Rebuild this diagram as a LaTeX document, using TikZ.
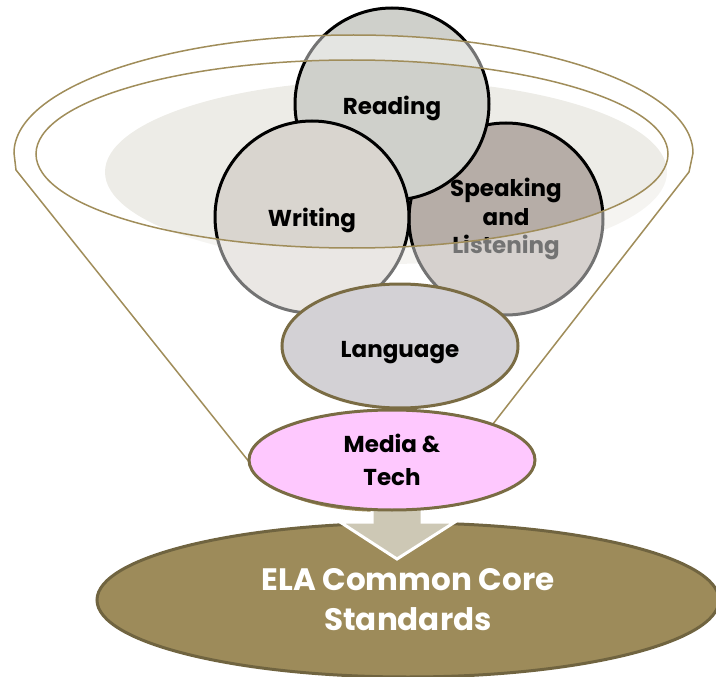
\documentclass[tikz,border=0pt]{standalone}
\usepackage{fontspec}
\setmainfont{Poppins}
\usetikzlibrary{shapes.geometric}
\definecolor{rimgold}{HTML}{A08D5A}
\definecolor{blobgray}{HTML}{EDECE7}
\definecolor{readfill}{HTML}{CFD0CB}
\definecolor{writefill}{HTML}{D9D5CF}
\definecolor{speakfill}{HTML}{B6ADA7}
\definecolor{langfill}{HTML}{D3D1D5}
\definecolor{mediafill}{HTML}{FEC8FE}
\definecolor{stageline}{HTML}{7A6C44}
\definecolor{basefill}{HTML}{9D8B5A}
\definecolor{baseline}{HTML}{706440}
\definecolor{arrowfill}{HTML}{CDC8B5}
\newcommand{\lowertext}[2]{\raisebox{-#1}[\height][\depth]{#2}}

\begin{document}
\begin{tikzpicture}[x=1pt, y=1pt,
  bubble/.style={ellipse, draw=black, line width=3pt, inner sep=0pt,
    minimum width=194pt, minimum height=192pt, align=center,
    font=\bfseries\fontsize{23}{28.5}\selectfont},
  stage/.style={ellipse, draw=stageline, line width=3pt, inner sep=0pt,
    align=center, font=\bfseries\fontsize{23}{33}\selectfont},
  rimline/.style={draw=rimgold, line width=1.5pt}]
\useasboundingbox (0,0) rectangle (716,-677);
% liquid
\fill[blobgray] (386,-172) ellipse[x radius=281, y radius=92];
% circles
\node[bubble, fill=speakfill] (speak) at (506,-219) {Speaking\\and\\Listening};
\node[bubble, fill=readfill] (read) at (392,-104) {\lowertext{4pt}{Reading}};
\node[bubble, fill=writefill] (write) at (312,-217) {\lowertext{3pt}{Writing}};
% funnel
\fill[white, opacity=0.45, even odd rule] (262,-478) -- (16,-170) -- (14,-153)
  arc[start angle=180, end angle=0, x radius=339.5, y radius=118]
  -- (689,-172) -- (486,-433)
  arc[start angle=32, end angle=-160, x radius=125, y radius=51] -- cycle
  (352,-154) ellipse[x radius=316, y radius=94];
\draw[rimline] (262,-478) -- (16,-170) -- (14,-153)
  arc[start angle=180, end angle=0, x radius=339.5, y radius=118]
  -- (689,-172) -- (486,-433)
  arc[start angle=32, end angle=-160, x radius=125, y radius=51] -- cycle;
\draw[rimline] (352,-154) ellipse[x radius=316, y radius=94];
% base
\node[ellipse, draw=baseline, line width=3pt, fill=basefill, inner sep=0pt,
  minimum width=622pt, minimum height=154pt, align=center, text=white,
  font=\bfseries\fontsize{31}{40}\selectfont] (ela) at (408,-600)
  {ELA Common Core\\Standards};
% arrow
\fill[arrowfill, draw=white, line width=3pt] (372,-508) -- (372,-522) -- (340,-522)
  -- (397,-559) -- (455,-522) -- (422,-522) -- (422,-508) -- cycle;
% stages
\node[stage, fill=langfill, minimum width=236pt, minimum height=124pt] (lang)
  at (400,-346) {\lowertext{7pt}{Language}};
\node[stage, fill=mediafill, minimum width=286pt, minimum height=100pt] (media)
  at (392,-460) {Media \&\\Tech};
\end{tikzpicture}
\end{document}
